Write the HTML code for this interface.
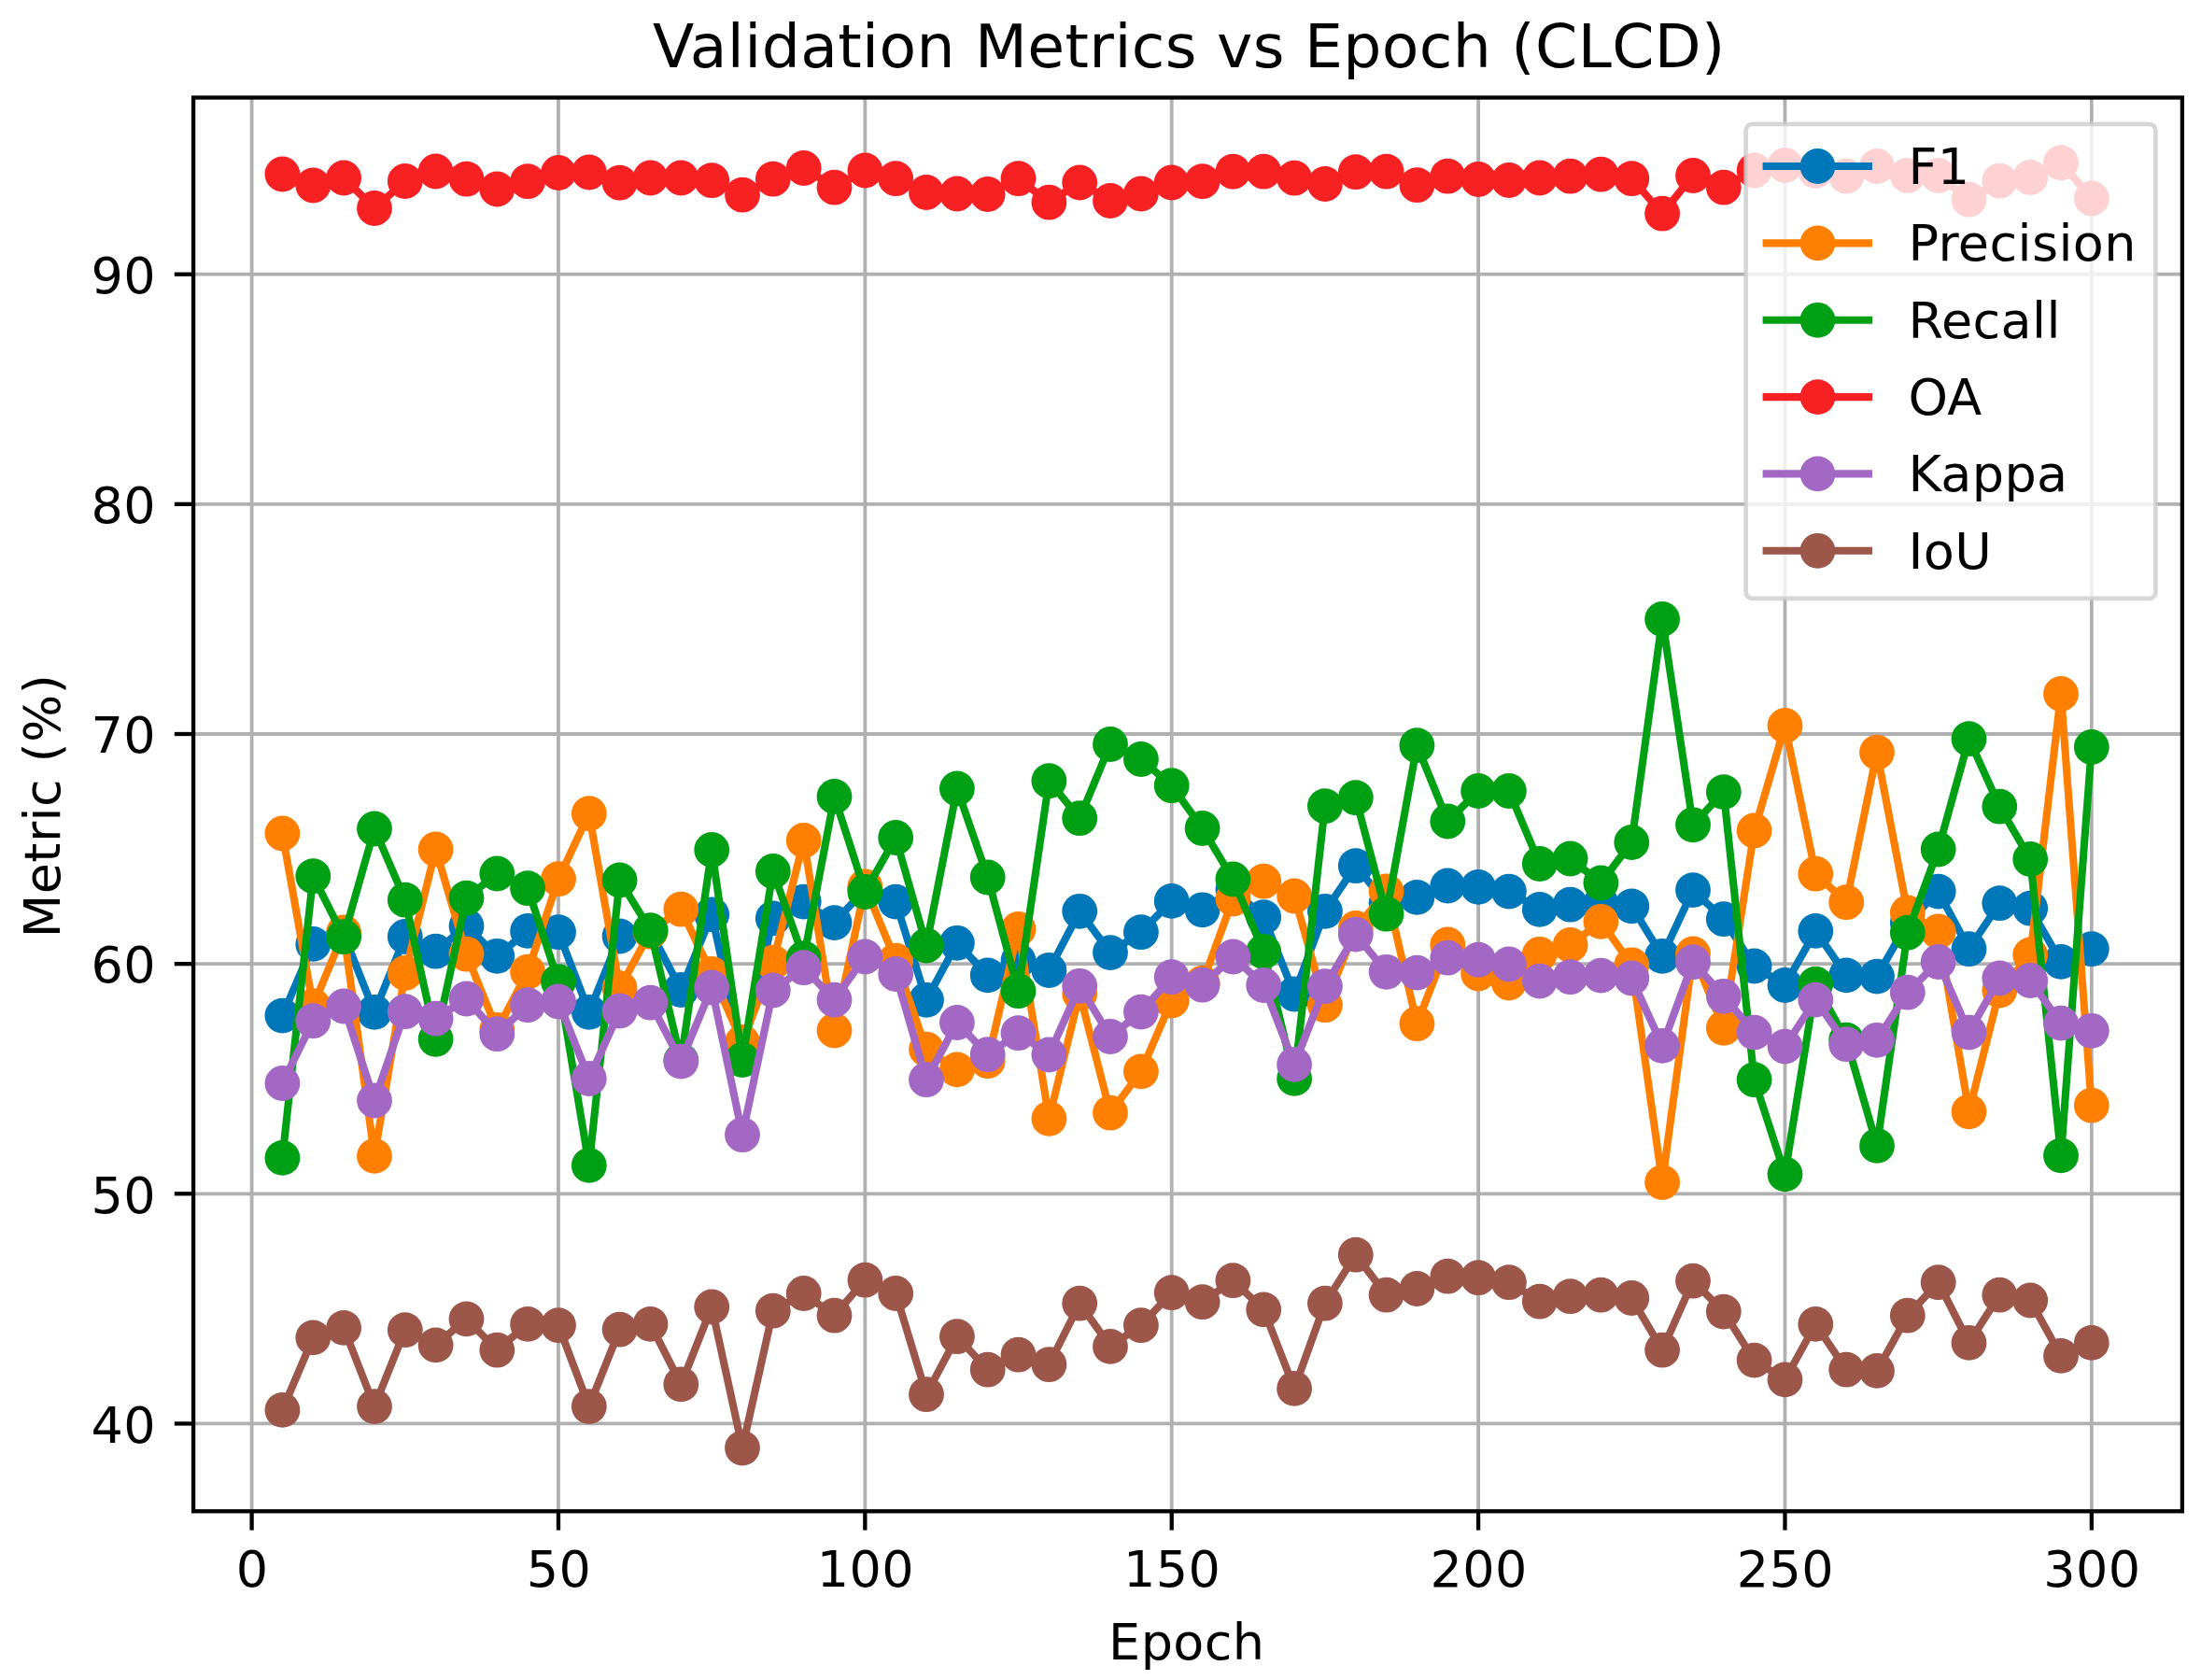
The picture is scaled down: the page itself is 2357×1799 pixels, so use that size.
<!DOCTYPE html><html><head><meta charset="utf-8"><title>Validation Metrics vs Epoch (CLCD)</title>
<style>html,body{margin:0;padding:0;background:#fff}svg{display:block}text{font-family:"DejaVu Sans","Liberation Sans",sans-serif;fill:#000;letter-spacing:0.4px}</style></head><body>
<svg width="2357" height="1799" viewBox="0 0 2357 1799">
<rect width="2357" height="1799" fill="#fff"/>
<defs><clipPath id="ax"><rect x="207.1" y="104.5" width="2129.8" height="1513.8"/></clipPath></defs>
<g stroke="#b0b0b0" stroke-width="3.8" clip-path="url(#ax)">
<line x1="269.60" y1="104.5" x2="269.60" y2="1618.3"/>
<line x1="597.98" y1="104.5" x2="597.98" y2="1618.3"/>
<line x1="926.35" y1="104.5" x2="926.35" y2="1618.3"/>
<line x1="1254.72" y1="104.5" x2="1254.72" y2="1618.3"/>
<line x1="1583.10" y1="104.5" x2="1583.10" y2="1618.3"/>
<line x1="1911.47" y1="104.5" x2="1911.47" y2="1618.3"/>
<line x1="2239.85" y1="104.5" x2="2239.85" y2="1618.3"/>
<line x1="207.1" y1="1524.45" x2="2336.9" y2="1524.45"/>
<line x1="207.1" y1="1278.30" x2="2336.9" y2="1278.30"/>
<line x1="207.1" y1="1032.15" x2="2336.9" y2="1032.15"/>
<line x1="207.1" y1="786.00" x2="2336.9" y2="786.00"/>
<line x1="207.1" y1="539.85" x2="2336.9" y2="539.85"/>
<line x1="207.1" y1="293.70" x2="2336.9" y2="293.70"/>
</g>
<g clip-path="url(#ax)">
<g fill="#0077b8" stroke="none"><polyline points="302.4,1087.6 335.3,1010.9 368.1,1000.8 401.0,1083.8 433.8,1003.0 466.6,1018.7 499.5,991.7 532.3,1023.8 565.1,996.9 598.0,998.2 630.8,1083.8 663.6,1002.5 696.5,996.9 729.3,1060.0 762.2,979.4 795.0,1129.3 827.8,983.4 860.7,965.6 893.5,988.1 926.4,952.2 959.2,965.6 992.0,1070.8 1024.9,1009.8 1057.7,1044.4 1090.5,1028.7 1123.4,1039.0 1156.2,975.8 1189.0,1020.1 1221.9,998.2 1254.7,964.9 1287.6,974.3 1320.4,952.7 1353.2,982.1 1386.1,1064.5 1418.9,975.8 1451.8,927.2 1484.6,967.2 1517.4,960.9 1550.3,948.5 1583.1,949.9 1615.9,954.6 1648.8,973.9 1681.6,968.7 1714.4,967.2 1747.3,970.4 1780.1,1023.8 1813.0,953.1 1845.8,984.2 1878.6,1034.5 1911.5,1055.0 1944.3,996.9 1977.2,1044.4 2010.0,1045.6 2042.8,988.1 2075.7,954.6 2108.5,1016.2 2141.3,967.2 2174.2,972.7 2207.0,1029.9 2239.8,1016.2" fill="none" stroke="#0077b8" stroke-width="8.1" stroke-linejoin="round"/>
<circle cx="302.4" cy="1087.6" r="18.9"/><circle cx="335.3" cy="1010.9" r="18.9"/><circle cx="368.1" cy="1000.8" r="18.9"/><circle cx="401.0" cy="1083.8" r="18.9"/><circle cx="433.8" cy="1003.0" r="18.9"/><circle cx="466.6" cy="1018.7" r="18.9"/><circle cx="499.5" cy="991.7" r="18.9"/><circle cx="532.3" cy="1023.8" r="18.9"/><circle cx="565.1" cy="996.9" r="18.9"/><circle cx="598.0" cy="998.2" r="18.9"/><circle cx="630.8" cy="1083.8" r="18.9"/><circle cx="663.6" cy="1002.5" r="18.9"/><circle cx="696.5" cy="996.9" r="18.9"/><circle cx="729.3" cy="1060.0" r="18.9"/><circle cx="762.2" cy="979.4" r="18.9"/><circle cx="795.0" cy="1129.3" r="18.9"/><circle cx="827.8" cy="983.4" r="18.9"/><circle cx="860.7" cy="965.6" r="18.9"/><circle cx="893.5" cy="988.1" r="18.9"/><circle cx="926.4" cy="952.2" r="18.9"/><circle cx="959.2" cy="965.6" r="18.9"/><circle cx="992.0" cy="1070.8" r="18.9"/><circle cx="1024.9" cy="1009.8" r="18.9"/><circle cx="1057.7" cy="1044.4" r="18.9"/><circle cx="1090.5" cy="1028.7" r="18.9"/><circle cx="1123.4" cy="1039.0" r="18.9"/><circle cx="1156.2" cy="975.8" r="18.9"/><circle cx="1189.0" cy="1020.1" r="18.9"/><circle cx="1221.9" cy="998.2" r="18.9"/><circle cx="1254.7" cy="964.9" r="18.9"/><circle cx="1287.6" cy="974.3" r="18.9"/><circle cx="1320.4" cy="952.7" r="18.9"/><circle cx="1353.2" cy="982.1" r="18.9"/><circle cx="1386.1" cy="1064.5" r="18.9"/><circle cx="1418.9" cy="975.8" r="18.9"/><circle cx="1451.8" cy="927.2" r="18.9"/><circle cx="1484.6" cy="967.2" r="18.9"/><circle cx="1517.4" cy="960.9" r="18.9"/><circle cx="1550.3" cy="948.5" r="18.9"/><circle cx="1583.1" cy="949.9" r="18.9"/><circle cx="1615.9" cy="954.6" r="18.9"/><circle cx="1648.8" cy="973.9" r="18.9"/><circle cx="1681.6" cy="968.7" r="18.9"/><circle cx="1714.4" cy="967.2" r="18.9"/><circle cx="1747.3" cy="970.4" r="18.9"/><circle cx="1780.1" cy="1023.8" r="18.9"/><circle cx="1813.0" cy="953.1" r="18.9"/><circle cx="1845.8" cy="984.2" r="18.9"/><circle cx="1878.6" cy="1034.5" r="18.9"/><circle cx="1911.5" cy="1055.0" r="18.9"/><circle cx="1944.3" cy="996.9" r="18.9"/><circle cx="1977.2" cy="1044.4" r="18.9"/><circle cx="2010.0" cy="1045.6" r="18.9"/><circle cx="2042.8" cy="988.1" r="18.9"/><circle cx="2075.7" cy="954.6" r="18.9"/><circle cx="2108.5" cy="1016.2" r="18.9"/><circle cx="2141.3" cy="967.2" r="18.9"/><circle cx="2174.2" cy="972.7" r="18.9"/><circle cx="2207.0" cy="1029.9" r="18.9"/><circle cx="2239.8" cy="1016.2" r="18.9"/>
</g>
<g fill="#ff7f00" stroke="none"><polyline points="302.4,892.5 335.3,1077.2 368.1,998.4 401.0,1237.9 433.8,1042.0 466.6,909.5 499.5,1021.7 532.3,1102.8 565.1,1040.7 598.0,941.2 630.8,871.2 663.6,1058.1 696.5,997.7 729.3,973.7 762.2,1043.0 795.0,1116.0 827.8,1030.6 860.7,900.0 893.5,1103.5 926.4,949.4 959.2,1028.7 992.0,1123.7 1024.9,1145.4 1057.7,1136.2 1090.5,995.0 1123.4,1197.9 1156.2,1063.9 1189.0,1191.7 1221.9,1147.4 1254.7,1071.5 1287.6,1052.7 1320.4,962.5 1353.2,943.7 1386.1,959.5 1418.9,1076.2 1451.8,994.0 1484.6,954.5 1517.4,1096.2 1550.3,1011.5 1583.1,1042.5 1615.9,1052.5 1648.8,1021.8 1681.6,1012.0 1714.4,986.8 1747.3,1033.3 1780.1,1266.1 1813.0,1021.5 1845.8,1100.8 1878.6,889.5 1911.5,777.0 1944.3,935.7 1977.2,966.2 2010.0,805.7 2042.8,977.5 2075.7,997.5 2108.5,1190.4 2141.3,1060.6 2174.2,1022.5 2207.0,743.0 2239.8,1183.7" fill="none" stroke="#ff7f00" stroke-width="8.1" stroke-linejoin="round"/>
<circle cx="302.4" cy="892.5" r="18.9"/><circle cx="335.3" cy="1077.2" r="18.9"/><circle cx="368.1" cy="998.4" r="18.9"/><circle cx="401.0" cy="1237.9" r="18.9"/><circle cx="433.8" cy="1042.0" r="18.9"/><circle cx="466.6" cy="909.5" r="18.9"/><circle cx="499.5" cy="1021.7" r="18.9"/><circle cx="532.3" cy="1102.8" r="18.9"/><circle cx="565.1" cy="1040.7" r="18.9"/><circle cx="598.0" cy="941.2" r="18.9"/><circle cx="630.8" cy="871.2" r="18.9"/><circle cx="663.6" cy="1058.1" r="18.9"/><circle cx="696.5" cy="997.7" r="18.9"/><circle cx="729.3" cy="973.7" r="18.9"/><circle cx="762.2" cy="1043.0" r="18.9"/><circle cx="795.0" cy="1116.0" r="18.9"/><circle cx="827.8" cy="1030.6" r="18.9"/><circle cx="860.7" cy="900.0" r="18.9"/><circle cx="893.5" cy="1103.5" r="18.9"/><circle cx="926.4" cy="949.4" r="18.9"/><circle cx="959.2" cy="1028.7" r="18.9"/><circle cx="992.0" cy="1123.7" r="18.9"/><circle cx="1024.9" cy="1145.4" r="18.9"/><circle cx="1057.7" cy="1136.2" r="18.9"/><circle cx="1090.5" cy="995.0" r="18.9"/><circle cx="1123.4" cy="1197.9" r="18.9"/><circle cx="1156.2" cy="1063.9" r="18.9"/><circle cx="1189.0" cy="1191.7" r="18.9"/><circle cx="1221.9" cy="1147.4" r="18.9"/><circle cx="1254.7" cy="1071.5" r="18.9"/><circle cx="1287.6" cy="1052.7" r="18.9"/><circle cx="1320.4" cy="962.5" r="18.9"/><circle cx="1353.2" cy="943.7" r="18.9"/><circle cx="1386.1" cy="959.5" r="18.9"/><circle cx="1418.9" cy="1076.2" r="18.9"/><circle cx="1451.8" cy="994.0" r="18.9"/><circle cx="1484.6" cy="954.5" r="18.9"/><circle cx="1517.4" cy="1096.2" r="18.9"/><circle cx="1550.3" cy="1011.5" r="18.9"/><circle cx="1583.1" cy="1042.5" r="18.9"/><circle cx="1615.9" cy="1052.5" r="18.9"/><circle cx="1648.8" cy="1021.8" r="18.9"/><circle cx="1681.6" cy="1012.0" r="18.9"/><circle cx="1714.4" cy="986.8" r="18.9"/><circle cx="1747.3" cy="1033.3" r="18.9"/><circle cx="1780.1" cy="1266.1" r="18.9"/><circle cx="1813.0" cy="1021.5" r="18.9"/><circle cx="1845.8" cy="1100.8" r="18.9"/><circle cx="1878.6" cy="889.5" r="18.9"/><circle cx="1911.5" cy="777.0" r="18.9"/><circle cx="1944.3" cy="935.7" r="18.9"/><circle cx="1977.2" cy="966.2" r="18.9"/><circle cx="2010.0" cy="805.7" r="18.9"/><circle cx="2042.8" cy="977.5" r="18.9"/><circle cx="2075.7" cy="997.5" r="18.9"/><circle cx="2108.5" cy="1190.4" r="18.9"/><circle cx="2141.3" cy="1060.6" r="18.9"/><circle cx="2174.2" cy="1022.5" r="18.9"/><circle cx="2207.0" cy="743.0" r="18.9"/><circle cx="2239.8" cy="1183.7" r="18.9"/>
</g>
<g fill="#00a014" stroke="none"><polyline points="302.4,1239.9 335.3,938.2 368.1,1003.2 401.0,887.5 433.8,963.7 466.6,1112.8 499.5,961.7 532.3,935.5 565.1,951.2 598.0,1051.2 630.8,1247.9 663.6,942.5 696.5,996.2 729.3,1135.6 762.2,910.0 795.0,1135.0 827.8,933.0 860.7,1026.1 893.5,853.0 926.4,955.0 959.2,897.0 992.0,1012.5 1024.9,844.5 1057.7,939.5 1090.5,1061.2 1123.4,836.2 1156.2,876.2 1189.0,797.0 1221.9,813.0 1254.7,841.2 1287.6,887.0 1320.4,941.5 1353.2,1019.0 1386.1,1154.9 1418.9,863.2 1451.8,854.2 1484.6,978.7 1517.4,798.2 1550.3,879.5 1583.1,847.0 1615.9,847.0 1648.8,925.0 1681.6,919.5 1714.4,945.5 1747.3,902.0 1780.1,663.0 1813.0,883.3 1845.8,848.1 1878.6,1156.2 1911.5,1257.4 1944.3,1053.7 1977.2,1113.6 2010.0,1226.9 2042.8,998.7 2075.7,909.5 2108.5,791.2 2141.3,863.7 2174.2,920.0 2207.0,1237.4 2239.8,800.0" fill="none" stroke="#00a014" stroke-width="8.1" stroke-linejoin="round"/>
<circle cx="302.4" cy="1239.9" r="18.9"/><circle cx="335.3" cy="938.2" r="18.9"/><circle cx="368.1" cy="1003.2" r="18.9"/><circle cx="401.0" cy="887.5" r="18.9"/><circle cx="433.8" cy="963.7" r="18.9"/><circle cx="466.6" cy="1112.8" r="18.9"/><circle cx="499.5" cy="961.7" r="18.9"/><circle cx="532.3" cy="935.5" r="18.9"/><circle cx="565.1" cy="951.2" r="18.9"/><circle cx="598.0" cy="1051.2" r="18.9"/><circle cx="630.8" cy="1247.9" r="18.9"/><circle cx="663.6" cy="942.5" r="18.9"/><circle cx="696.5" cy="996.2" r="18.9"/><circle cx="729.3" cy="1135.6" r="18.9"/><circle cx="762.2" cy="910.0" r="18.9"/><circle cx="795.0" cy="1135.0" r="18.9"/><circle cx="827.8" cy="933.0" r="18.9"/><circle cx="860.7" cy="1026.1" r="18.9"/><circle cx="893.5" cy="853.0" r="18.9"/><circle cx="926.4" cy="955.0" r="18.9"/><circle cx="959.2" cy="897.0" r="18.9"/><circle cx="992.0" cy="1012.5" r="18.9"/><circle cx="1024.9" cy="844.5" r="18.9"/><circle cx="1057.7" cy="939.5" r="18.9"/><circle cx="1090.5" cy="1061.2" r="18.9"/><circle cx="1123.4" cy="836.2" r="18.9"/><circle cx="1156.2" cy="876.2" r="18.9"/><circle cx="1189.0" cy="797.0" r="18.9"/><circle cx="1221.9" cy="813.0" r="18.9"/><circle cx="1254.7" cy="841.2" r="18.9"/><circle cx="1287.6" cy="887.0" r="18.9"/><circle cx="1320.4" cy="941.5" r="18.9"/><circle cx="1353.2" cy="1019.0" r="18.9"/><circle cx="1386.1" cy="1154.9" r="18.9"/><circle cx="1418.9" cy="863.2" r="18.9"/><circle cx="1451.8" cy="854.2" r="18.9"/><circle cx="1484.6" cy="978.7" r="18.9"/><circle cx="1517.4" cy="798.2" r="18.9"/><circle cx="1550.3" cy="879.5" r="18.9"/><circle cx="1583.1" cy="847.0" r="18.9"/><circle cx="1615.9" cy="847.0" r="18.9"/><circle cx="1648.8" cy="925.0" r="18.9"/><circle cx="1681.6" cy="919.5" r="18.9"/><circle cx="1714.4" cy="945.5" r="18.9"/><circle cx="1747.3" cy="902.0" r="18.9"/><circle cx="1780.1" cy="663.0" r="18.9"/><circle cx="1813.0" cy="883.3" r="18.9"/><circle cx="1845.8" cy="848.1" r="18.9"/><circle cx="1878.6" cy="1156.2" r="18.9"/><circle cx="1911.5" cy="1257.4" r="18.9"/><circle cx="1944.3" cy="1053.7" r="18.9"/><circle cx="1977.2" cy="1113.6" r="18.9"/><circle cx="2010.0" cy="1226.9" r="18.9"/><circle cx="2042.8" cy="998.7" r="18.9"/><circle cx="2075.7" cy="909.5" r="18.9"/><circle cx="2108.5" cy="791.2" r="18.9"/><circle cx="2141.3" cy="863.7" r="18.9"/><circle cx="2174.2" cy="920.0" r="18.9"/><circle cx="2207.0" cy="1237.4" r="18.9"/><circle cx="2239.8" cy="800.0" r="18.9"/>
</g>
<g fill="#f72023" stroke="none"><polyline points="302.4,186.5 335.3,198.5 368.1,190.5 401.0,223.0 433.8,194.0 466.6,183.5 499.5,191.7 532.3,202.5 565.1,194.2 598.0,185.0 630.8,184.5 663.6,195.7 696.5,190.5 729.3,190.5 762.2,193.2 795.0,208.7 827.8,191.7 860.7,180.0 893.5,200.7 926.4,182.5 959.2,191.2 992.0,206.0 1024.9,207.5 1057.7,208.0 1090.5,191.2 1123.4,216.7 1156.2,195.5 1189.0,215.0 1221.9,207.5 1254.7,195.5 1287.6,194.2 1320.4,183.7 1353.2,183.7 1386.1,190.7 1418.9,197.0 1451.8,184.2 1484.6,183.7 1517.4,198.2 1550.3,188.7 1583.1,192.0 1615.9,193.0 1648.8,190.5 1681.6,188.7 1714.4,186.7 1747.3,191.2 1780.1,228.7 1813.0,188.0 1845.8,200.7 1878.6,182.5 1911.5,177.0 1944.3,183.0 1977.2,188.7 2010.0,178.0 2042.8,188.0 2075.7,188.0 2108.5,213.7 2141.3,193.7 2174.2,190.0 2207.0,174.2 2239.8,212.5" fill="none" stroke="#f72023" stroke-width="8.1" stroke-linejoin="round"/>
<circle cx="302.4" cy="186.5" r="18.9"/><circle cx="335.3" cy="198.5" r="18.9"/><circle cx="368.1" cy="190.5" r="18.9"/><circle cx="401.0" cy="223.0" r="18.9"/><circle cx="433.8" cy="194.0" r="18.9"/><circle cx="466.6" cy="183.5" r="18.9"/><circle cx="499.5" cy="191.7" r="18.9"/><circle cx="532.3" cy="202.5" r="18.9"/><circle cx="565.1" cy="194.2" r="18.9"/><circle cx="598.0" cy="185.0" r="18.9"/><circle cx="630.8" cy="184.5" r="18.9"/><circle cx="663.6" cy="195.7" r="18.9"/><circle cx="696.5" cy="190.5" r="18.9"/><circle cx="729.3" cy="190.5" r="18.9"/><circle cx="762.2" cy="193.2" r="18.9"/><circle cx="795.0" cy="208.7" r="18.9"/><circle cx="827.8" cy="191.7" r="18.9"/><circle cx="860.7" cy="180.0" r="18.9"/><circle cx="893.5" cy="200.7" r="18.9"/><circle cx="926.4" cy="182.5" r="18.9"/><circle cx="959.2" cy="191.2" r="18.9"/><circle cx="992.0" cy="206.0" r="18.9"/><circle cx="1024.9" cy="207.5" r="18.9"/><circle cx="1057.7" cy="208.0" r="18.9"/><circle cx="1090.5" cy="191.2" r="18.9"/><circle cx="1123.4" cy="216.7" r="18.9"/><circle cx="1156.2" cy="195.5" r="18.9"/><circle cx="1189.0" cy="215.0" r="18.9"/><circle cx="1221.9" cy="207.5" r="18.9"/><circle cx="1254.7" cy="195.5" r="18.9"/><circle cx="1287.6" cy="194.2" r="18.9"/><circle cx="1320.4" cy="183.7" r="18.9"/><circle cx="1353.2" cy="183.7" r="18.9"/><circle cx="1386.1" cy="190.7" r="18.9"/><circle cx="1418.9" cy="197.0" r="18.9"/><circle cx="1451.8" cy="184.2" r="18.9"/><circle cx="1484.6" cy="183.7" r="18.9"/><circle cx="1517.4" cy="198.2" r="18.9"/><circle cx="1550.3" cy="188.7" r="18.9"/><circle cx="1583.1" cy="192.0" r="18.9"/><circle cx="1615.9" cy="193.0" r="18.9"/><circle cx="1648.8" cy="190.5" r="18.9"/><circle cx="1681.6" cy="188.7" r="18.9"/><circle cx="1714.4" cy="186.7" r="18.9"/><circle cx="1747.3" cy="191.2" r="18.9"/><circle cx="1780.1" cy="228.7" r="18.9"/><circle cx="1813.0" cy="188.0" r="18.9"/><circle cx="1845.8" cy="200.7" r="18.9"/><circle cx="1878.6" cy="182.5" r="18.9"/><circle cx="1911.5" cy="177.0" r="18.9"/><circle cx="1944.3" cy="183.0" r="18.9"/><circle cx="1977.2" cy="188.7" r="18.9"/><circle cx="2010.0" cy="178.0" r="18.9"/><circle cx="2042.8" cy="188.0" r="18.9"/><circle cx="2075.7" cy="188.0" r="18.9"/><circle cx="2108.5" cy="213.7" r="18.9"/><circle cx="2141.3" cy="193.7" r="18.9"/><circle cx="2174.2" cy="190.0" r="18.9"/><circle cx="2207.0" cy="174.2" r="18.9"/><circle cx="2239.8" cy="212.5" r="18.9"/>
</g>
<g fill="#a268c3" stroke="none"><polyline points="302.4,1160.0 335.3,1093.2 368.1,1077.5 401.0,1178.5 433.8,1083.2 466.6,1090.7 499.5,1069.5 532.3,1107.2 565.1,1076.2 598.0,1072.5 630.8,1155.0 663.6,1082.5 696.5,1073.7 729.3,1136.6 762.2,1057.5 795.0,1215.2 827.8,1060.5 860.7,1036.2 893.5,1070.7 926.4,1024.5 959.2,1043.0 992.0,1156.2 1024.9,1095.0 1057.7,1129.2 1090.5,1106.2 1123.4,1129.5 1156.2,1055.8 1189.0,1110.0 1221.9,1083.6 1254.7,1046.2 1287.6,1054.7 1320.4,1024.5 1353.2,1055.0 1386.1,1139.9 1418.9,1056.2 1451.8,1000.6 1484.6,1040.8 1517.4,1041.6 1550.3,1025.7 1583.1,1027.7 1615.9,1032.5 1648.8,1050.6 1681.6,1046.2 1714.4,1044.6 1747.3,1047.5 1780.1,1119.9 1813.0,1030.2 1845.8,1066.8 1878.6,1105.6 1911.5,1120.6 1944.3,1070.6 1977.2,1118.2 2010.0,1113.8 2042.8,1062.7 2075.7,1030.0 2108.5,1105.6 2141.3,1047.5 2174.2,1050.0 2207.0,1095.6 2239.8,1103.8" fill="none" stroke="#a268c3" stroke-width="8.1" stroke-linejoin="round"/>
<circle cx="302.4" cy="1160.0" r="18.9"/><circle cx="335.3" cy="1093.2" r="18.9"/><circle cx="368.1" cy="1077.5" r="18.9"/><circle cx="401.0" cy="1178.5" r="18.9"/><circle cx="433.8" cy="1083.2" r="18.9"/><circle cx="466.6" cy="1090.7" r="18.9"/><circle cx="499.5" cy="1069.5" r="18.9"/><circle cx="532.3" cy="1107.2" r="18.9"/><circle cx="565.1" cy="1076.2" r="18.9"/><circle cx="598.0" cy="1072.5" r="18.9"/><circle cx="630.8" cy="1155.0" r="18.9"/><circle cx="663.6" cy="1082.5" r="18.9"/><circle cx="696.5" cy="1073.7" r="18.9"/><circle cx="729.3" cy="1136.6" r="18.9"/><circle cx="762.2" cy="1057.5" r="18.9"/><circle cx="795.0" cy="1215.2" r="18.9"/><circle cx="827.8" cy="1060.5" r="18.9"/><circle cx="860.7" cy="1036.2" r="18.9"/><circle cx="893.5" cy="1070.7" r="18.9"/><circle cx="926.4" cy="1024.5" r="18.9"/><circle cx="959.2" cy="1043.0" r="18.9"/><circle cx="992.0" cy="1156.2" r="18.9"/><circle cx="1024.9" cy="1095.0" r="18.9"/><circle cx="1057.7" cy="1129.2" r="18.9"/><circle cx="1090.5" cy="1106.2" r="18.9"/><circle cx="1123.4" cy="1129.5" r="18.9"/><circle cx="1156.2" cy="1055.8" r="18.9"/><circle cx="1189.0" cy="1110.0" r="18.9"/><circle cx="1221.9" cy="1083.6" r="18.9"/><circle cx="1254.7" cy="1046.2" r="18.9"/><circle cx="1287.6" cy="1054.7" r="18.9"/><circle cx="1320.4" cy="1024.5" r="18.9"/><circle cx="1353.2" cy="1055.0" r="18.9"/><circle cx="1386.1" cy="1139.9" r="18.9"/><circle cx="1418.9" cy="1056.2" r="18.9"/><circle cx="1451.8" cy="1000.6" r="18.9"/><circle cx="1484.6" cy="1040.8" r="18.9"/><circle cx="1517.4" cy="1041.6" r="18.9"/><circle cx="1550.3" cy="1025.7" r="18.9"/><circle cx="1583.1" cy="1027.7" r="18.9"/><circle cx="1615.9" cy="1032.5" r="18.9"/><circle cx="1648.8" cy="1050.6" r="18.9"/><circle cx="1681.6" cy="1046.2" r="18.9"/><circle cx="1714.4" cy="1044.6" r="18.9"/><circle cx="1747.3" cy="1047.5" r="18.9"/><circle cx="1780.1" cy="1119.9" r="18.9"/><circle cx="1813.0" cy="1030.2" r="18.9"/><circle cx="1845.8" cy="1066.8" r="18.9"/><circle cx="1878.6" cy="1105.6" r="18.9"/><circle cx="1911.5" cy="1120.6" r="18.9"/><circle cx="1944.3" cy="1070.6" r="18.9"/><circle cx="1977.2" cy="1118.2" r="18.9"/><circle cx="2010.0" cy="1113.8" r="18.9"/><circle cx="2042.8" cy="1062.7" r="18.9"/><circle cx="2075.7" cy="1030.0" r="18.9"/><circle cx="2108.5" cy="1105.6" r="18.9"/><circle cx="2141.3" cy="1047.5" r="18.9"/><circle cx="2174.2" cy="1050.0" r="18.9"/><circle cx="2207.0" cy="1095.6" r="18.9"/><circle cx="2239.8" cy="1103.8" r="18.9"/>
</g>
<g fill="#9c564a" stroke="none"><polyline points="302.4,1509.9 335.3,1432.4 368.1,1421.9 401.0,1506.1 433.8,1424.2 466.6,1440.4 499.5,1412.4 532.3,1445.7 565.1,1417.9 598.0,1419.2 630.8,1506.1 663.6,1423.7 696.5,1417.9 729.3,1482.4 762.2,1399.5 795.0,1550.6 827.8,1403.7 860.7,1385.0 893.5,1408.7 926.4,1370.7 959.2,1385.0 992.0,1493.2 1024.9,1431.2 1057.7,1466.7 1090.5,1450.7 1123.4,1461.2 1156.2,1395.7 1189.0,1441.9 1221.9,1419.2 1254.7,1384.2 1287.6,1394.2 1320.4,1371.2 1353.2,1402.4 1386.1,1486.9 1418.9,1395.7 1451.8,1343.7 1484.6,1386.7 1517.4,1380.0 1550.3,1366.7 1583.1,1368.2 1615.9,1373.2 1648.8,1393.7 1681.6,1388.2 1714.4,1386.7 1747.3,1390.0 1780.1,1445.7 1813.0,1371.7 1845.8,1404.6 1878.6,1456.6 1911.5,1477.4 1944.3,1417.9 1977.2,1466.7 2010.0,1467.9 2042.8,1408.7 2075.7,1373.2 2108.5,1437.9 2141.3,1386.7 2174.2,1392.5 2207.0,1451.9 2239.8,1437.9" fill="none" stroke="#9c564a" stroke-width="8.1" stroke-linejoin="round"/>
<circle cx="302.4" cy="1509.9" r="18.9"/><circle cx="335.3" cy="1432.4" r="18.9"/><circle cx="368.1" cy="1421.9" r="18.9"/><circle cx="401.0" cy="1506.1" r="18.9"/><circle cx="433.8" cy="1424.2" r="18.9"/><circle cx="466.6" cy="1440.4" r="18.9"/><circle cx="499.5" cy="1412.4" r="18.9"/><circle cx="532.3" cy="1445.7" r="18.9"/><circle cx="565.1" cy="1417.9" r="18.9"/><circle cx="598.0" cy="1419.2" r="18.9"/><circle cx="630.8" cy="1506.1" r="18.9"/><circle cx="663.6" cy="1423.7" r="18.9"/><circle cx="696.5" cy="1417.9" r="18.9"/><circle cx="729.3" cy="1482.4" r="18.9"/><circle cx="762.2" cy="1399.5" r="18.9"/><circle cx="795.0" cy="1550.6" r="18.9"/><circle cx="827.8" cy="1403.7" r="18.9"/><circle cx="860.7" cy="1385.0" r="18.9"/><circle cx="893.5" cy="1408.7" r="18.9"/><circle cx="926.4" cy="1370.7" r="18.9"/><circle cx="959.2" cy="1385.0" r="18.9"/><circle cx="992.0" cy="1493.2" r="18.9"/><circle cx="1024.9" cy="1431.2" r="18.9"/><circle cx="1057.7" cy="1466.7" r="18.9"/><circle cx="1090.5" cy="1450.7" r="18.9"/><circle cx="1123.4" cy="1461.2" r="18.9"/><circle cx="1156.2" cy="1395.7" r="18.9"/><circle cx="1189.0" cy="1441.9" r="18.9"/><circle cx="1221.9" cy="1419.2" r="18.9"/><circle cx="1254.7" cy="1384.2" r="18.9"/><circle cx="1287.6" cy="1394.2" r="18.9"/><circle cx="1320.4" cy="1371.2" r="18.9"/><circle cx="1353.2" cy="1402.4" r="18.9"/><circle cx="1386.1" cy="1486.9" r="18.9"/><circle cx="1418.9" cy="1395.7" r="18.9"/><circle cx="1451.8" cy="1343.7" r="18.9"/><circle cx="1484.6" cy="1386.7" r="18.9"/><circle cx="1517.4" cy="1380.0" r="18.9"/><circle cx="1550.3" cy="1366.7" r="18.9"/><circle cx="1583.1" cy="1368.2" r="18.9"/><circle cx="1615.9" cy="1373.2" r="18.9"/><circle cx="1648.8" cy="1393.7" r="18.9"/><circle cx="1681.6" cy="1388.2" r="18.9"/><circle cx="1714.4" cy="1386.7" r="18.9"/><circle cx="1747.3" cy="1390.0" r="18.9"/><circle cx="1780.1" cy="1445.7" r="18.9"/><circle cx="1813.0" cy="1371.7" r="18.9"/><circle cx="1845.8" cy="1404.6" r="18.9"/><circle cx="1878.6" cy="1456.6" r="18.9"/><circle cx="1911.5" cy="1477.4" r="18.9"/><circle cx="1944.3" cy="1417.9" r="18.9"/><circle cx="1977.2" cy="1466.7" r="18.9"/><circle cx="2010.0" cy="1467.9" r="18.9"/><circle cx="2042.8" cy="1408.7" r="18.9"/><circle cx="2075.7" cy="1373.2" r="18.9"/><circle cx="2108.5" cy="1437.9" r="18.9"/><circle cx="2141.3" cy="1386.7" r="18.9"/><circle cx="2174.2" cy="1392.5" r="18.9"/><circle cx="2207.0" cy="1451.9" r="18.9"/><circle cx="2239.8" cy="1437.9" r="18.9"/>
</g>
</g>
<g stroke="#000" stroke-width="4.3">
<line x1="269.60" y1="1618.3" x2="269.60" y2="1638.6"/>
<line x1="597.98" y1="1618.3" x2="597.98" y2="1638.6"/>
<line x1="926.35" y1="1618.3" x2="926.35" y2="1638.6"/>
<line x1="1254.72" y1="1618.3" x2="1254.72" y2="1638.6"/>
<line x1="1583.10" y1="1618.3" x2="1583.10" y2="1638.6"/>
<line x1="1911.47" y1="1618.3" x2="1911.47" y2="1638.6"/>
<line x1="2239.85" y1="1618.3" x2="2239.85" y2="1638.6"/>
<line x1="186.79999999999998" y1="1524.45" x2="207.1" y2="1524.45"/>
<line x1="186.79999999999998" y1="1278.30" x2="207.1" y2="1278.30"/>
<line x1="186.79999999999998" y1="1032.15" x2="207.1" y2="1032.15"/>
<line x1="186.79999999999998" y1="786.00" x2="207.1" y2="786.00"/>
<line x1="186.79999999999998" y1="539.85" x2="207.1" y2="539.85"/>
<line x1="186.79999999999998" y1="293.70" x2="207.1" y2="293.70"/>
</g>
<rect x="207.1" y="104.5" width="2129.8" height="1513.8" fill="none" stroke="#000" stroke-width="4.3"/>
<g font-size="54">
<text x="270.10" y="1698.8" text-anchor="middle">0</text>
<text x="598.48" y="1698.8" text-anchor="middle">50</text>
<text x="926.85" y="1698.8" text-anchor="middle">100</text>
<text x="1255.22" y="1698.8" text-anchor="middle">150</text>
<text x="1583.60" y="1698.8" text-anchor="middle">200</text>
<text x="1911.97" y="1698.8" text-anchor="middle">250</text>
<text x="2240.35" y="1698.8" text-anchor="middle">300</text>
<text x="167.0" y="1544.7" text-anchor="end">40</text>
<text x="167.0" y="1298.5" text-anchor="end">50</text>
<text x="167.0" y="1052.3" text-anchor="end">60</text>
<text x="167.0" y="806.2" text-anchor="end">70</text>
<text x="167.0" y="560.0" text-anchor="end">80</text>
<text x="167.0" y="313.9" text-anchor="end">90</text>
<text x="1270.8" y="1777" text-anchor="middle">Epoch</text>
<text transform="translate(63.6,863.0) rotate(-90)" text-anchor="middle">Metric (%)</text>
</g>
<text x="1273.4" y="71.8" text-anchor="middle" font-size="64.8">Validation Metrics vs Epoch (CLCD)</text>
<rect x="1869.6" y="132.9" width="438.8000000000002" height="508.0" rx="7" ry="7" fill="#fff" fill-opacity="0.8" stroke="#ccc" stroke-opacity="0.8" stroke-width="4.6"/>
<g font-size="54">
<line x1="1887.6" y1="178.0" x2="2005.0" y2="178.0" stroke="#0077b8" stroke-width="8.1"/><circle cx="1946.5" cy="178.0" r="18.9" fill="#0077b8"/>
<text x="2043.4" y="196.9">F1</text>
<line x1="1887.6" y1="260.4" x2="2005.0" y2="260.4" stroke="#ff7f00" stroke-width="8.1"/><circle cx="1946.5" cy="260.4" r="18.9" fill="#ff7f00"/>
<text x="2043.4" y="279.3">Precision</text>
<line x1="1887.6" y1="342.8" x2="2005.0" y2="342.8" stroke="#00a014" stroke-width="8.1"/><circle cx="1946.5" cy="342.8" r="18.9" fill="#00a014"/>
<text x="2043.4" y="361.7">Recall</text>
<line x1="1887.6" y1="425.1" x2="2005.0" y2="425.1" stroke="#f72023" stroke-width="8.1"/><circle cx="1946.5" cy="425.1" r="18.9" fill="#f72023"/>
<text x="2043.4" y="444.0">OA</text>
<line x1="1887.6" y1="507.4" x2="2005.0" y2="507.4" stroke="#a268c3" stroke-width="8.1"/><circle cx="1946.5" cy="507.4" r="18.9" fill="#a268c3"/>
<text x="2043.4" y="526.3">Kappa</text>
<line x1="1887.6" y1="589.8" x2="2005.0" y2="589.8" stroke="#9c564a" stroke-width="8.1"/><circle cx="1946.5" cy="589.8" r="18.9" fill="#9c564a"/>
<text x="2043.4" y="608.7">IoU</text>
</g>
</svg></body></html>
